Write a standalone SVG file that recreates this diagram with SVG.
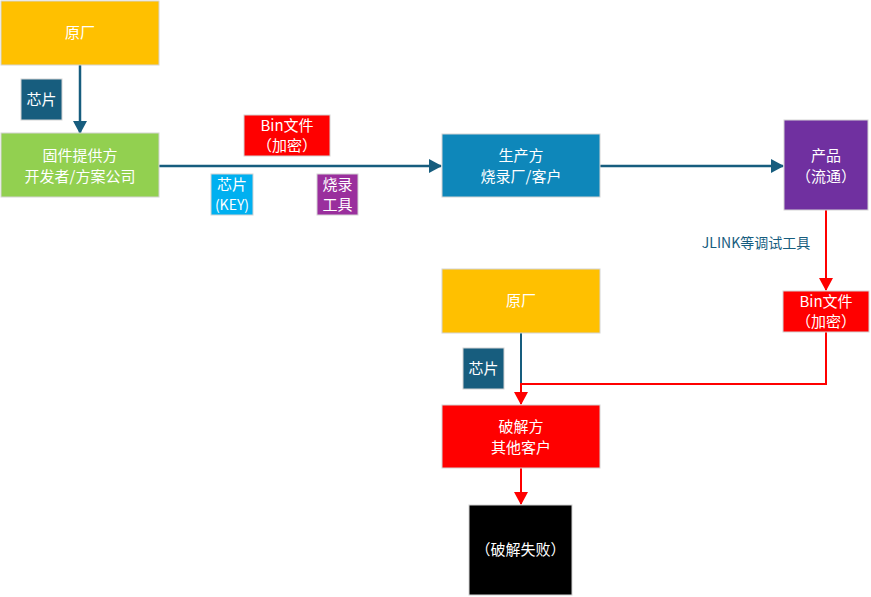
<svg xmlns="http://www.w3.org/2000/svg" width="871" height="597" viewBox="0 0 871 597">
<defs>
<marker id="ab" markerWidth="14" markerHeight="14" refX="12" refY="7" orient="auto" markerUnits="userSpaceOnUse"><path d="M0,0 L13,7 L0,14 Z" fill="#175D7E"/></marker>
<marker id="ar" markerWidth="14" markerHeight="14" refX="12" refY="7" orient="auto" markerUnits="userSpaceOnUse"><path d="M0,0 L13,7 L0,14 Z" fill="#FF0000"/></marker>
<style>
rect{stroke:#D4D4D4;stroke-width:1}
text{font-family:"Microsoft YaHei","Noto Sans CJK SC","Noto Sans",sans-serif;font-size:15px;fill:#FFFFFF;text-anchor:middle}
.b{stroke:#175D7E;stroke-width:2.5;fill:none}
.r{stroke:#FF0000;stroke-width:2;fill:none}
</style>
</defs>
<rect x="0" y="0" width="871" height="597" fill="#FFFFFF" style="stroke:none"/>
<g id="connectors">
<line class="b" x1="80" y1="65" x2="80" y2="133" marker-end="url(#ab)"/>
<line class="b" x1="159" y1="166" x2="441" y2="166" marker-end="url(#ab)"/>
<line class="b" x1="600" y1="166" x2="783" y2="166" marker-end="url(#ab)"/>
<line class="r" x1="826" y1="210" x2="826" y2="290" marker-end="url(#ar)"/>
<line class="b" x1="521" y1="333" x2="521" y2="384" style="stroke-width:2"/>
<polyline class="r" points="826,332 826,384 521,384 521,404" marker-end="url(#ar)"/>
<line class="r" x1="521" y1="468" x2="521" y2="504" marker-end="url(#ar)"/>
<text x="756" y="248" style="fill:#175D7E;font-size:14px">JLINK等调试工具</text>
</g>
<g id="n1"><rect x="1" y="1" width="158" height="64" fill="#FFC000"/><text x="80" y="38">原厂</text></g>
<g id="n2"><rect x="21" y="79" width="41" height="41" fill="#175D7E"/><text x="41.5" y="105">芯片</text></g>
<g id="n3"><rect x="1" y="133" width="158" height="64" fill="#92D050"/><text x="80" y="161">固件提供方</text><text x="80" y="182">开发者/方案公司</text></g>
<g id="n4"><rect x="244" y="115" width="86" height="41" fill="#FF0000"/><text x="287" y="131">Bin文件</text><text x="287" y="151">（加密）</text></g>
<g id="n5"><rect x="211" y="174" width="42" height="41" fill="#00B0F0"/><text x="232" y="190">芯片</text><text x="232" y="210" style="font-size:14px">(KEY)</text></g>
<g id="n6"><rect x="317" y="174" width="41" height="41" fill="#9A2F9D"/><text x="337.5" y="190">烧录</text><text x="337.5" y="210">工具</text></g>
<g id="n7"><rect x="442" y="134" width="158" height="63" fill="#0E87BA"/><text x="521" y="161">生产方</text><text x="521" y="182">烧录厂/客户</text></g>
<g id="n8"><rect x="784" y="120" width="84" height="90" fill="#7030A0"/><text x="826" y="161">产品</text><text x="826" y="182">（流通）</text></g>
<g id="n9"><rect x="783" y="291" width="86" height="41" fill="#FF0000"/><text x="826" y="307">Bin文件</text><text x="826" y="327">（加密）</text></g>
<g id="n10"><rect x="442" y="269" width="158" height="64" fill="#FFC000"/><text x="521" y="306">原厂</text></g>
<g id="n11"><rect x="463" y="348" width="41" height="41" fill="#175D7E"/><text x="483.5" y="374">芯片</text></g>
<g id="n12"><rect x="442" y="405" width="158" height="63" fill="#FF0000"/><text x="521" y="432">破解方</text><text x="521" y="453">其他客户</text></g>
<g id="n13"><rect x="469" y="505" width="103" height="90" fill="#000000"/><text x="520.5" y="555">（破解失败）</text></g>
</svg>
